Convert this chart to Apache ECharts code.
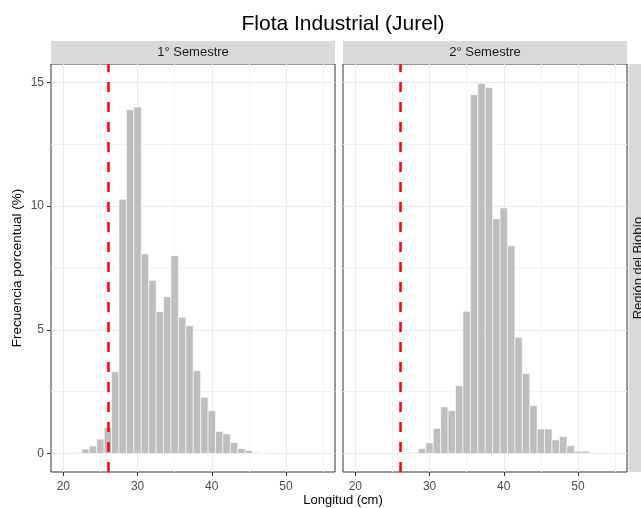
<!DOCTYPE html>
<html lang="es">
<head>
<meta charset="UTF-8">
<title>Flota Industrial (Jurel)</title>
<script src="https://cdn.jsdelivr.net/npm/echarts@6.0.0/dist/echarts.min.js"></script>
<style>
    html, body { margin: 0; padding: 0; background: #fff; }
</style>
</head>
<body>
<div id="main" style="width: 641px;height:508px;"></div>
<script>
    // datos (frecuencia porcentual por talla, cm)
    var semestres = ['1° Semestre', '2° Semestre'];
    var region = 'Región del Biobío';
    var longitud1 = [22, 23, 24, 25, 26, 27, 28, 29, 30, 31, 32, 33, 34,
                     35, 36, 37, 38, 39, 40, 41, 42, 43, 44, 45, 46, 47];
    var frecuencia1 = [0.03, 0.18, 0.30, 0.58, 1.05, 3.30, 10.28, 13.90, 14.01, 8.07, 7.00, 5.73, 6.34,
                       8.00, 5.51, 5.16, 3.35, 2.27, 1.73, 0.89, 0.79, 0.44, 0.20, 0.12, 0.04, 0.02];
    var longitud2 = [28, 29, 30, 31, 32, 33, 34, 35, 36, 37, 38, 39, 40,
                     41, 42, 43, 44, 45, 46, 47, 48, 49, 50, 51, 52];
    var frecuencia2 = [0.04, 0.20, 0.43, 1.01, 1.88, 1.73, 2.74, 5.75, 14.51, 14.96, 14.80, 9.49, 9.93,
                       8.40, 4.70, 3.23, 1.93, 0.99, 0.99, 0.55, 0.69, 0.31, 0.09, 0.09, 0.03];
    var tallaMinima = 26;
    var xTicks = [20, 30, 40, 50];
    var xMinor = [25, 35, 45, 55];
    var yTicks = [0, 5, 10, 15];
    var yMinor = [2.5, 7.5, 12.5];
    var xRange = [18.34, 56.6];
    var yRange = [-0.75, 15.75];

    var font = "'Liberation Sans', Arial, sans-serif";
    var panelTop = 64, panelHeight = 408, panelWidth = 284;
    var panelLeft = [51, 343];
    var stripTop = 41, stripHeight = 23;

    function toPairs(xs, ys) {
        var out = [];
        for (var i = 0; i < xs.length; i++) out.push([xs[i], ys[i]]);
        return out;
    }

    function renderBar(params, api) {
        var x = api.value(0);
        var y = api.value(1);
        var p0 = api.coord([x - 0.5, y]);
        var p1 = api.coord([x + 0.5, 0]);
        return {
            type: 'rect',
            shape: { x: p0[0], y: p0[1], width: p1[0] - p0[0], height: p1[1] - p0[1] },
            style: { fill: '#BEBEBE', stroke: '#FFFFFF', lineWidth: 0.6 }
        };
    }

    var grids = [], xAxes = [], yAxes = [], series = [], graphics = [];
    var datos = [toPairs(longitud1, frecuencia1), toPairs(longitud2, frecuencia2)];

    for (var i = 0; i < 2; i++) {
        grids.push({
            left: panelLeft[i], top: panelTop, width: panelWidth, height: panelHeight,
            show: true, backgroundColor: '#FFFFFF', borderColor: '#333333', borderWidth: 1
        });
        // eje principal
        xAxes.push({
            gridIndex: i, type: 'value', min: xRange[0], max: xRange[1], position: 'bottom',
            axisLine: { show: false, onZero: false },
            axisTick: { show: true, length: 4, customValues: xTicks, lineStyle: { color: '#333333' } },
            axisLabel: { customValues: xTicks, color: '#4D4D4D', fontSize: 12, fontFamily: font, margin: 9 },
            splitLine: { show: true, lineStyle: { color: '#EBEBEB', width: 1.1 } }
        });
        // grilla menor
        xAxes.push({
            gridIndex: i, type: 'value', min: xRange[0], max: xRange[1], position: 'bottom',
            axisLine: { show: false, onZero: false },
            axisTick: { show: false, customValues: xMinor },
            axisLabel: { show: false, customValues: xMinor },
            splitLine: { show: true, lineStyle: { color: '#F3F3F3', width: 1 } }
        });
        yAxes.push({
            gridIndex: i, type: 'value', min: yRange[0], max: yRange[1], position: 'left',
            name: i === 0 ? 'Frecuencia porcentual (%)' : '',
            nameLocation: 'middle', nameRotate: 90, nameGap: 27,
            nameTextStyle: { color: '#000000', fontSize: 13.5, fontFamily: font },
            axisLine: { show: false, onZero: false },
            axisTick: { show: i === 0, length: 4, customValues: yTicks, lineStyle: { color: '#333333' } },
            axisLabel: { show: i === 0, customValues: yTicks, color: '#4D4D4D', fontSize: 12, fontFamily: font, margin: 7 },
            splitLine: { show: true, lineStyle: { color: '#EBEBEB', width: 1.1 } }
        });
        yAxes.push({
            gridIndex: i, type: 'value', min: yRange[0], max: yRange[1], position: 'left',
            axisLine: { show: false, onZero: false },
            axisTick: { show: false, customValues: yMinor },
            axisLabel: { show: false, customValues: yMinor },
            splitLine: { show: true, lineStyle: { color: '#F3F3F3', width: 1 } }
        });
        series.push({
            type: 'custom',
            name: semestres[i],
            xAxisIndex: i * 2, yAxisIndex: i * 2,
            renderItem: renderBar,
            encode: { x: 0, y: 1 },
            data: datos[i],
            z: 3,
            markLine: {
                silent: true, symbol: ['none', 'none'],
                label: { show: false },
                lineStyle: { color: '#FF0000', type: [10, 10], width: 2.5 },
                data: [{ xAxis: tallaMinima }]
            }
        });
        // franja del panel
        graphics.push({
            type: 'rect', silent: true,
            shape: { x: panelLeft[i], y: stripTop, width: panelWidth, height: stripHeight },
            style: { fill: '#D9D9D9' }
        });
        graphics.push({
            type: 'text', silent: true,
            x: panelLeft[i] + panelWidth / 2, y: stripTop + stripHeight / 2,
            style: { text: semestres[i], fill: '#1A1A1A', fontSize: 13, fontFamily: font, align: 'center', verticalAlign: 'middle' }
        });
    }

    // franja lateral
    graphics.push({
        type: 'rect', silent: true,
        shape: { x: 628.5, y: panelTop, width: 30, height: panelHeight },
        style: { fill: '#D9D9D9' }
    });
    graphics.push({
        type: 'text', silent: true,
        x: 638, y: panelTop + panelHeight / 2, rotation: Math.PI / 2,
        style: { text: region, fill: '#1A1A1A', fontSize: 13, fontFamily: font, align: 'center', verticalAlign: 'middle' }
    });

    var myChart = echarts.init(document.getElementById('main'));
    var option = {
        backgroundColor: '#FFFFFF',
        animation: false,
        title: [
            {
                text: 'Flota Industrial (Jurel)', left: 338, top: 9, textAlign: 'center',
                textStyle: { color: '#000000', fontSize: 21, fontWeight: 'normal', fontFamily: font }
            },
            {
                text: 'Longitud (cm)', left: 338, top: 489, textAlign: 'center',
                textStyle: { color: '#000000', fontSize: 13, fontWeight: 'normal', fontFamily: font }
            }
        ],
        grid: grids,
        xAxis: xAxes,
        yAxis: yAxes,
        series: series,
        graphic: graphics
    };
    myChart.setOption(option);
</script>
</body>
</html>
